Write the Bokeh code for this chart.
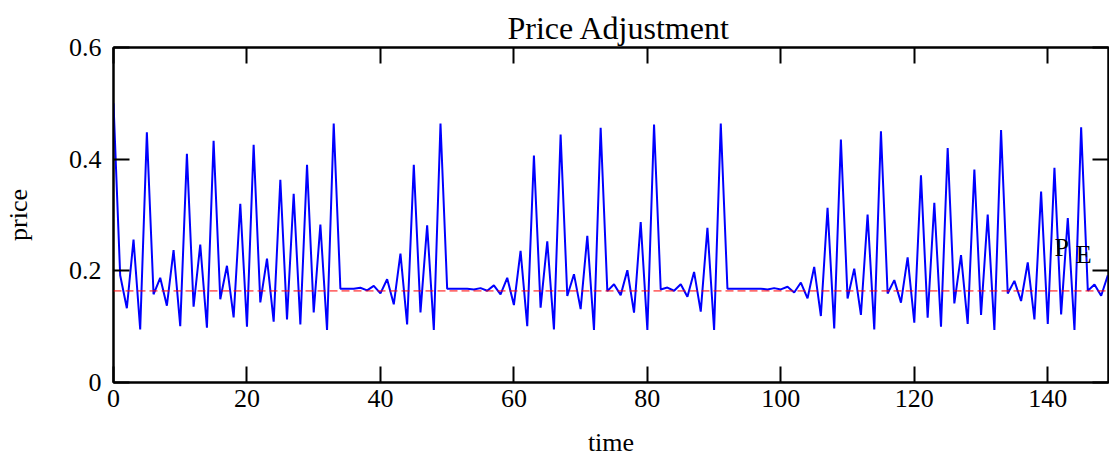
from bokeh.plotting import figure
from bokeh.models import Range1d, LinearAxis, FixedTicker, Label, Span
from bokeh.embed import file_html
from bokeh.resources import INLINE

# ---- data ----
time = list(range(150))
price = [
    0.500, 0.192, 0.133, 0.256, 0.095, 0.448, 0.158, 0.1875, 0.1375, 0.237,
    0.101, 0.4095, 0.1357, 0.247, 0.098, 0.433, 0.149, 0.209, 0.1167, 0.320,
    0.100, 0.4256, 0.1435, 0.222, 0.109, 0.363, 0.113, 0.338, 0.104, 0.390,
    0.1256, 0.283, 0.094, 0.464, 0.168, 0.168, 0.168, 0.1696, 0.165, 0.173,
    0.1595, 0.185, 0.140, 0.231, 0.104, 0.390, 0.1256, 0.2815, 0.094, 0.464,
    0.168, 0.168, 0.168, 0.168, 0.1667, 0.169, 0.1643, 0.174, 0.158, 0.1875,
    0.1387, 0.2357, 0.101, 0.4065, 0.134, 0.253, 0.095, 0.444, 0.155, 0.194,
    0.1315, 0.2625, 0.094, 0.456, 0.1637, 0.176, 0.1565, 0.2012, 0.125, 0.2875,
    0.094, 0.462, 0.1667, 0.170, 0.1643, 0.176, 0.1536, 0.198, 0.127, 0.277,
    0.094, 0.464, 0.168, 0.168, 0.168, 0.168, 0.168, 0.168, 0.1667, 0.169,
    0.1667, 0.1714, 0.1613, 0.179, 0.1506, 0.207, 0.119, 0.313, 0.097, 0.435,
    0.1506, 0.204, 0.121, 0.301, 0.095, 0.450, 0.1595, 0.1833, 0.143, 0.224,
    0.107, 0.371, 0.116, 0.322, 0.100, 0.420, 0.1417, 0.228, 0.1048, 0.3815,
    0.121, 0.3006, 0.094, 0.452, 0.1595, 0.182, 0.146, 0.215, 0.113, 0.342,
    0.1048, 0.3845, 0.122, 0.2946, 0.094, 0.457, 0.1643, 0.1756, 0.1554, 0.192,
]
p_e = 0.164  # equilibrium price

x_ticks = [0, 20, 40, 60, 80, 100, 120, 140]
x_tick_labels = ["0", "20", "40", "60", "80", "100", "120", "140"]
y_ticks = [0, 0.2, 0.4, 0.6]
y_tick_labels = ["0", "0.2", "0.4", "0.6"]

title_text = "Price Adjustment"
x_label = "time"
y_label = "price"

FONT = "Liberation Serif"

p = figure(
    width=1109, height=459,
    output_backend="svg", toolbar_location=None,
    x_range=Range1d(0, 149.1), y_range=Range1d(0, 0.6),
    min_border_left=112, min_border_right=1,
    min_border_top=47, min_border_bottom=76,
    title=title_text, x_axis_label=x_label, y_axis_label=y_label,
)
p.grid.visible = False
p.outline_line_color = "black"
p.outline_line_width = 2
p.background_fill_color = "white"
p.border_fill_color = "white"

p.title.text_font = FONT
p.title.text_font_size = "32px"
p.title.text_font_style = "normal"
p.title.text_color = "black"
p.title.align = "left"
p.title.offset = 394
p.title.standoff = 4

def style_axis(ax, ticks, labels, show_labels=True):
    ax.ticker = FixedTicker(ticks=ticks)
    ax.major_tick_in = 16
    ax.major_tick_out = 0
    ax.minor_tick_in = 0
    ax.minor_tick_out = 0
    ax.major_tick_line_width = 2
    ax.major_tick_line_color = "black"
    ax.axis_line_width = 2
    ax.axis_line_color = "black"
    if show_labels:
        ax.major_label_overrides = {t: l for t, l in zip(ticks, labels)}
        ax.major_label_text_font = FONT
        ax.major_label_text_font_size = "26px"
        ax.major_label_text_color = "black"
        ax.axis_label_text_font = FONT
        ax.axis_label_text_font_size = "26px"
        ax.axis_label_text_font_style = "normal"
        ax.axis_label_text_color = "black"
    else:
        ax.major_label_overrides = {t: "" for t in ticks}
        ax.major_label_text_font_size = "1px"
        ax.major_label_standoff = 0

style_axis(p.xaxis[0], x_ticks, x_tick_labels)
p.xaxis[0].major_label_standoff = 7
p.xaxis[0].axis_label_standoff = 18
style_axis(p.yaxis[0], y_ticks, y_tick_labels)
p.yaxis[0].major_label_standoff = 12
p.yaxis[0].axis_label_standoff = 33

top_axis = LinearAxis()
style_axis(top_axis, x_ticks, x_tick_labels, show_labels=False)
p.add_layout(top_axis, "above")
right_axis = LinearAxis()
style_axis(right_axis, y_ticks, y_tick_labels, show_labels=False)
p.add_layout(right_axis, "right")

p.add_layout(Span(location=p_e, dimension="width", line_color="red",
                  line_width=1, line_dash="8 4"))

p.line(time, price, line_color="#0000ff", line_width=2)

p.add_layout(Label(x=141.0, y=0.242, text="P", text_font=FONT,
                   text_font_size="26px", text_baseline="alphabetic",
                   text_align="left", text_color="black"))
p.add_layout(Label(x=144.2, y=0.230, text="E", text_font=FONT,
                   text_font_size="26px", text_baseline="alphabetic",
                   text_align="left", text_color="black"))

open("out.html", "w").write(file_html(p, INLINE))
